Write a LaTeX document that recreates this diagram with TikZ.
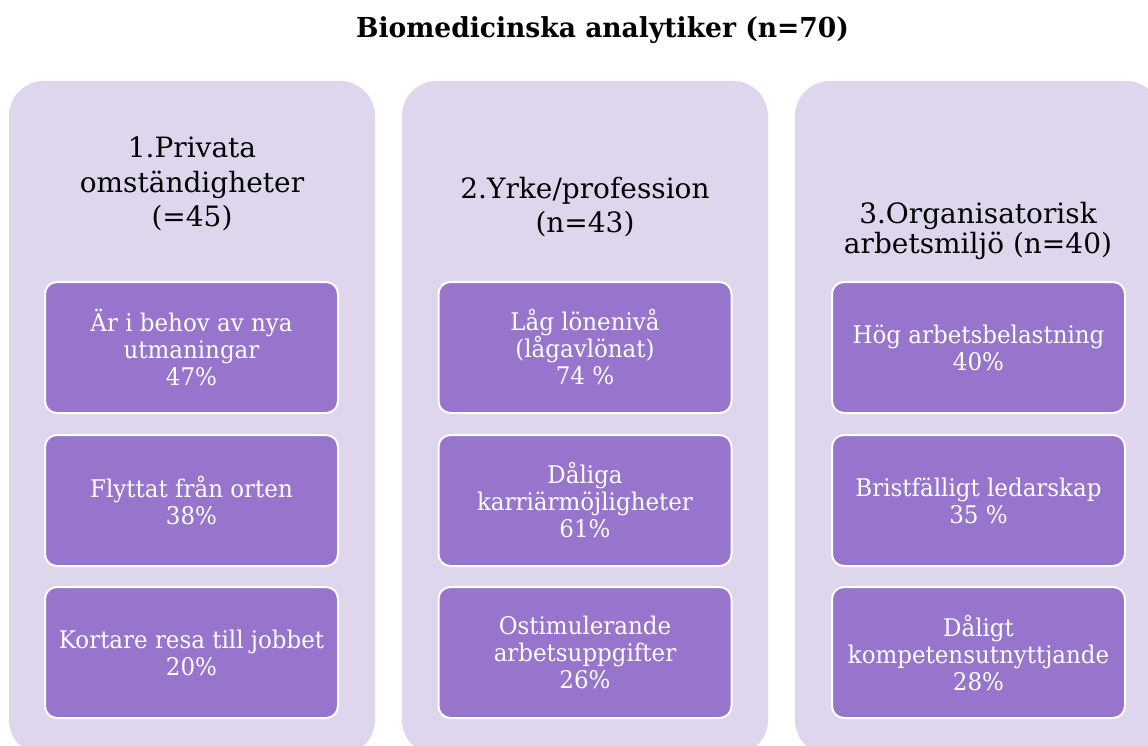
\documentclass[tikz,border=0pt]{standalone}
\usepackage{fontspec}
\setmainfont{DejaVu Serif}
\newfontfamily\itemfont[FakeStretch=0.945]{DejaVu Serif}
\newfontfamily\titlefont[FakeStretch=0.965]{DejaVu Serif}
\definecolor{panelbg}{RGB}{221,214,236}
\definecolor{itemfill}{RGB}{151,117,205}
\begin{document}
\begin{tikzpicture}[x=1pt,y=-1pt,
  column/.style={fill=panelbg, rounded corners=35pt, minimum width=366pt, minimum height=674pt, inner sep=0pt},
  item/.style={draw=white, line width=2pt, fill=itemfill, rounded corners=12pt,
    minimum width=293pt, minimum height=131pt, inner sep=0pt,
    text=white, align=center, font=\itemfont\fontsize{24.3}{27}\selectfont},
  headtext/.style={text=black, align=center, font=\fontsize{28}{34.5}\selectfont},
  titletext/.style={text=black, font=\titlefont\fontsize{27.5}{32}\selectfont\bfseries}]
\useasboundingbox (0,0) rectangle (1148,746);
\fill[white] (0,0) rectangle (1148,746);

% title
\node[titletext] (title) at (602.5,30.5) {Biomedicinska analytiker (n=70)};

% three columns
\node[column] (c1) at (192,418) {};
\node[column] (c2) at (585,418) {};
\node[column] (c3) at (978,418) {};

% column headings
\node[headtext] (h1) at (192,184) {1.Privata\\omständigheter\\(=45)};
\node[headtext] (h2) at (585,207) {2.Yrke/profession\\(n=43)};
\node[headtext, font=\fontsize{28}{30}\selectfont] (h3) at (978,231) {3.Organisatorisk\\arbetsmiljö (n=40)};

% column 1 items
\node[item] (a1) at (191.5,347.5) {Är i behov av nya\\utmaningar\\47\%};
\node[item] (a2) at (191.5,500.5) {Flyttat från orten\\38\%};
\node[item] (a3) at (191.5,652.5) {Kortare resa till jobbet\\20\%};

% column 2 items
\node[item] (b1) at (585,347.5) {Låg lönenivå\\(lågavlönat)\\74 \%};
\node[item] (b2) at (585,500.5) {Dåliga\\karriärmöjligheter\\61\%};
\node[item] (b3) at (585,652.5) {Ostimulerande\\arbetsuppgifter\\26\%};

% column 3 items
\node[item] (d1) at (978.5,347.5) {Hög arbetsbelastning\\40\%};
\node[item] (d2) at (978.5,500.5) {Bristfälligt ledarskap\\35 \%};
\node[item] (d3) at (978.5,652.5) {Dåligt\\kompetensutnyttjande\\28\%};
\end{tikzpicture}
\end{document}
